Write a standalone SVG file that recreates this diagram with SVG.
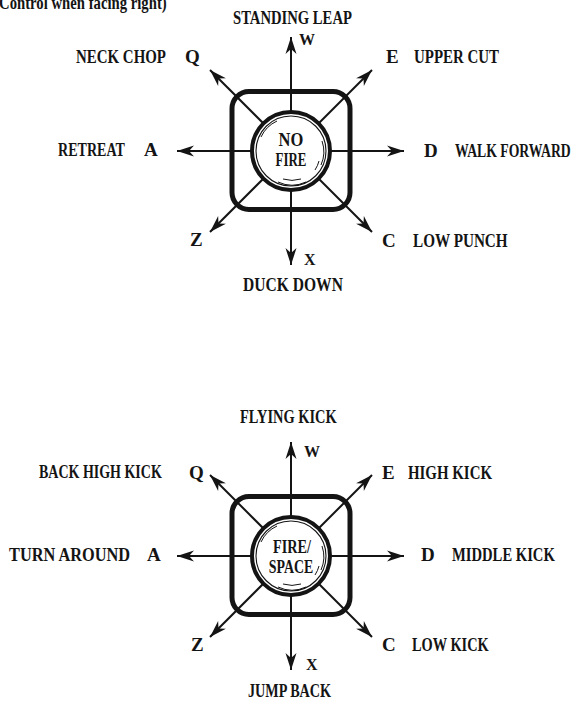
<svg xmlns="http://www.w3.org/2000/svg" width="582" height="701" viewBox="0 0 582 701">
  <style>
    text { font-family: "Liberation Serif", "Times New Roman", serif; font-weight: bold; fill: #141414; }
    .lbl { font-size: 19px; }
    .key { font-size: 19px; }
    .small { font-size: 16px; }
    .cap { font-size: 19px; text-anchor: middle; }
    .axis { stroke: #141414; stroke-width: 2; fill: none; marker-end: url(#head); }
    .gate { fill: none; stroke: #141414; stroke-width: 5; }
    .knob { fill: #fff; stroke: #141414; stroke-width: 4; }
    .ring { fill: none; stroke: #141414; stroke-width: 1.1; }
    .glint { fill: none; stroke: #141414; stroke-width: 1; }
  </style>
  <defs>
    <marker id="head" viewBox="-18 -6 20 12" refX="0" refY="0" markerWidth="20" markerHeight="12" markerUnits="userSpaceOnUse" orient="auto">
      <path d="M0,0 L-17,-5.5 L-12,0 L-17,5.5 Z" fill="#141414"/>
    </marker>
    <!-- joystick base: gate square, knob and its highlights, centred on 0,0 -->
    <g id="stick">
      <rect class="gate" x="-59" y="-59.5" width="118" height="118" rx="17"/>
    </g>
    <g id="knob">
      <circle class="knob" cx="0" cy="0" r="39"/>
      <circle class="ring" cx="0" cy="0" r="35"/>
      <path class="glint" d="M-30,-14 A33,33 0 0 1 -14,-30"/>
      <path class="glint" d="M31,-10 A32.5,32.5 0 0 1 30,14"/>
      <path class="glint" d="M28,10 A30,30 0 0 1 24,19"/>
      <path class="glint" d="M-13,31 A33,33 0 0 0 15,31"/>
      <path class="glint" d="M-8,28 A30,30 0 0 0 10,28"/>
    </g>
  </defs>

  <text class="lbl" transform="translate(-1,9) scale(0.775,1)">Control when facing right)</text>

  <!-- upper joystick: fire button released -->
  <g id="connectors-top">
    <line class="axis" x1="291" y1="151" x2="291" y2="37"/>
    <line class="axis" x1="291" y1="151" x2="291" y2="265"/>
    <line class="axis" x1="291" y1="151" x2="177" y2="151"/>
    <line class="axis" x1="291" y1="151" x2="404" y2="151"/>
    <line class="axis" x1="291" y1="151" x2="210" y2="70"/>
    <line class="axis" x1="291" y1="151" x2="372" y2="70"/>
    <line class="axis" x1="291" y1="151" x2="210" y2="232"/>
    <line class="axis" x1="291" y1="151" x2="372" y2="232"/>
  </g>
  <g id="joystick-top" transform="translate(291,151)">
    <use href="#stick"/>
    <use href="#knob"/>
    <text class="cap" transform="translate(0,-5) scale(0.87,1)">NO</text>
    <text class="cap" transform="translate(0,15) scale(0.68,1)">FIRE</text>
  </g>

  <g id="label-standing-leap"><text class="lbl" transform="translate(233,24) scale(0.771,1)">STANDING LEAP</text></g>
  <g id="key-w-top"><text class="small" x="299" y="45">W</text></g>
  <g id="label-neck-chop"><text class="lbl" transform="translate(76,63) scale(0.786,1)">NECK CHOP</text></g>
  <g id="key-q-top"><text class="key" x="185" y="63">Q</text></g>
  <g id="key-e-top"><text class="key" x="386" y="63">E</text></g>
  <g id="label-upper-cut"><text class="lbl" transform="translate(414,63) scale(0.786,1)">UPPER CUT</text></g>
  <g id="label-retreat"><text class="lbl" transform="translate(58,156) scale(0.74,1)">RETREAT</text></g>
  <g id="key-a-top"><text class="key" x="144" y="156">A</text></g>
  <g id="key-d-top"><text class="key" x="424" y="157">D</text></g>
  <g id="label-walk-forward"><text class="lbl" transform="translate(455,157) scale(0.722,1)">WALK FORWARD</text></g>
  <g id="key-z-top"><text class="key" x="190" y="246">Z</text></g>
  <g id="key-c-top"><text class="key" x="382" y="247">C</text></g>
  <g id="label-low-punch"><text class="lbl" transform="translate(413,247) scale(0.8,1)">LOW PUNCH</text></g>
  <g id="key-x-top"><text class="small" x="304" y="265">X</text></g>
  <g id="label-duck-down"><text class="lbl" transform="translate(243,291) scale(0.82,1)">DUCK DOWN</text></g>

  <!-- lower joystick: fire / space held -->
  <g id="connectors-bottom">
    <line class="axis" x1="291" y1="556" x2="291" y2="442"/>
    <line class="axis" x1="291" y1="556" x2="291" y2="670"/>
    <line class="axis" x1="291" y1="556" x2="177" y2="556"/>
    <line class="axis" x1="291" y1="556" x2="404" y2="556"/>
    <line class="axis" x1="291" y1="556" x2="210" y2="475"/>
    <line class="axis" x1="291" y1="556" x2="372" y2="475"/>
    <line class="axis" x1="291" y1="556" x2="210" y2="637"/>
    <line class="axis" x1="291" y1="556" x2="372" y2="637"/>
  </g>
  <g id="joystick-bottom" transform="translate(291,556)">
    <use href="#stick"/>
    <use href="#knob"/>
    <text class="cap" transform="translate(1,-3) scale(0.75,1)">FIRE/</text>
    <text class="cap" transform="translate(0,17) scale(0.73,1)">SPACE</text>
  </g>

  <g id="label-flying-kick"><text class="lbl" transform="translate(240,423) scale(0.758,1)">FLYING KICK</text></g>
  <g id="key-w-bottom"><text class="small" x="304" y="457">W</text></g>
  <g id="label-back-high-kick"><text class="lbl" transform="translate(39,478) scale(0.737,1)">BACK HIGH KICK</text></g>
  <g id="key-q-bottom"><text class="key" x="189" y="479">Q</text></g>
  <g id="key-e-bottom"><text class="key" x="382" y="479">E</text></g>
  <g id="label-high-kick"><text class="lbl" transform="translate(408,479) scale(0.784,1)">HIGH KICK</text></g>
  <g id="label-turn-around"><text class="lbl" transform="translate(9,561) scale(0.86,1)">TURN AROUND</text></g>
  <g id="key-a-bottom"><text class="key" x="147" y="561">A</text></g>
  <g id="key-d-bottom"><text class="key" x="421" y="561">D</text></g>
  <g id="label-middle-kick"><text class="lbl" transform="translate(452,561) scale(0.77,1)">MIDDLE KICK</text></g>
  <g id="key-z-bottom"><text class="key" x="191" y="651">Z</text></g>
  <g id="key-c-bottom"><text class="key" x="382" y="651">C</text></g>
  <g id="label-low-kick"><text class="lbl" transform="translate(412,651) scale(0.756,1)">LOW KICK</text></g>
  <g id="key-x-bottom"><text class="small" x="306" y="670">X</text></g>
  <g id="label-jump-back"><text class="lbl" transform="translate(248,697) scale(0.747,1)">JUMP BACK</text></g>
</svg>
